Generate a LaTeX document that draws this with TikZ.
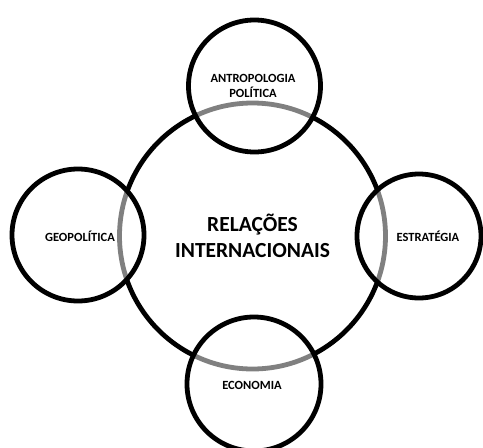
\documentclass[tikz,border=0pt]{standalone}
\usepackage{fontspec}
\setmainfont{Carlito}
\begin{document}
\begin{tikzpicture}[x=1pt,y=-1pt,
  ring/.style={draw=black,line width=4.8pt},
  grayring/.style={draw=black!50,line width=4.8pt},
  smalltxt/.style={font=\bfseries\fontsize{12.5}{14.5}\selectfont,align=center,inner sep=0pt},
  bigtxt/.style={font=\bfseries\fontsize{21.5}{26}\selectfont,align=center,inner sep=0pt}]
\useasboundingbox (0,0) rectangle (483,448);
% centres
\coordinate (cB) at (252.5,236);
\coordinate (cT) at (254.5,86);
\coordinate (cL) at (78,235);
\coordinate (cR) at (419,236);
\coordinate (cD) at (254,384);
\def\rB{133}
% big circle
\draw[ring] (cB) circle (\rB);
% small circles (white fill)
\foreach \c/\r in {cT/66, cL/66, cR/62, cD/67}{
  \fill[white] (\c) circle (\r);
  \begin{scope}
    \clip (\c) circle (\r);
    \draw[grayring] (cB) circle (\rB);
  \end{scope}
  \draw[ring] (\c) circle (\r);
}
\node[bigtxt] (main) at (252.5,236) {RELAÇÕES\\INTERNACIONAIS};
\node[smalltxt] (tT) at (253,86) {ANTROPOLOGIA\\POLÍTICA};
\node[smalltxt] (tL) at (80,236) {GEOPOLÍTICA};
\node[smalltxt] (tR) at (428,236) {ESTRATÉGIA};
\node[smalltxt] (tD) at (252,385) {ECONOMIA};
\end{tikzpicture}
\end{document}
